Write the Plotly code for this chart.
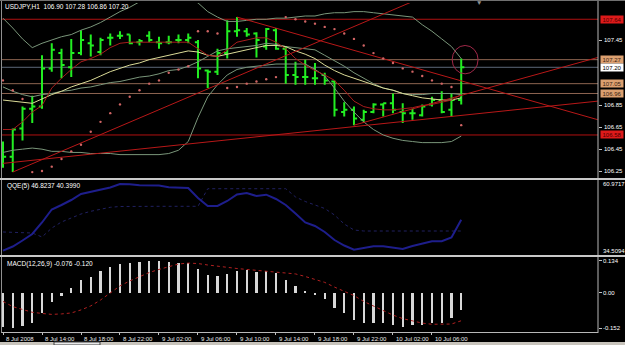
import plotly.graph_objects as go

# ---------------- data ----------------
BAR_INDEX = list(range(48))

OPEN = [106.40, 106.38, 106.64, 106.82, 106.84, 107.19, 107.33, 107.20, 107.33, 107.42,
        107.34, 107.47, 107.49, 107.50, 107.43, 107.49, 107.43, 107.43, 107.45, 107.45,
        107.43, 107.17, 107.16, 107.33, 107.53, 107.53, 107.51, 107.39, 107.54, 107.37,
        107.13, 107.11, 107.10, 107.13, 107.07, 106.79, 106.81, 106.72, 106.79, 106.86,
        106.87, 106.79, 106.78, 106.76, 106.86, 106.90, 106.81, 106.90]
HIGH = [106.52, 106.64, 106.84, 106.94, 107.31, 107.42, 107.37, 107.46, 107.54, 107.50,
        107.47, 107.51, 107.53, 107.50, 107.46, 107.53, 107.48, 107.49, 107.50, 107.51,
        107.45, 107.18, 107.37, 107.63, 107.66, 107.56, 107.52, 107.56, 107.56, 107.39,
        107.25, 107.27, 107.24, 107.15, 107.08, 106.88, 106.84, 106.81, 106.87, 106.87,
        106.96, 106.87, 106.82, 106.86, 106.93, 106.98, 106.96, 107.28]
LOW = [106.28, 106.24, 106.53, 106.69, 106.82, 107.16, 107.10, 107.11, 107.31, 107.30,
       107.31, 107.40, 107.46, 107.41, 107.40, 107.43, 107.37, 107.41, 107.42, 107.42,
       107.10, 107.01, 107.13, 107.28, 107.48, 107.48, 107.29, 107.36, 107.36, 107.05,
       107.04, 107.04, 107.04, 107.04, 106.75, 106.75, 106.67, 106.69, 106.78, 106.75,
       106.78, 106.69, 106.72, 106.75, 106.84, 106.78, 106.75, 106.86]
CLOSE = [106.38, 106.63, 106.82, 106.84, 107.19, 107.36, 107.22, 107.33, 107.45, 107.40,
         107.45, 107.47, 107.49, 107.42, 107.44, 107.45, 107.42, 107.43, 107.45, 107.47,
         107.19, 107.16, 107.33, 107.53, 107.54, 107.50, 107.45, 107.55, 107.37, 107.13,
         107.11, 107.11, 107.10, 107.08, 106.81, 106.81, 106.73, 106.79, 106.86, 106.87,
         106.81, 106.78, 106.78, 106.84, 106.90, 106.79, 106.90, 107.20]

BB_UPPER = [107.65, 107.56, 107.46, 107.38, 107.42, 107.45, 107.48, 107.50, 107.54, 107.57,
            107.61, 107.66, 107.71, 107.75, 107.80, 107.83, 107.87, 107.88, 107.87, 107.83,
            107.79, 107.71, 107.66, 107.62, 107.62, 107.63, 107.64, 107.64, 107.65, 107.65,
            107.66, 107.67, 107.67, 107.69, 107.70, 107.70, 107.71, 107.71, 107.70, 107.69,
            107.68, 107.67, 107.66, 107.59, 107.53, 107.46, 107.39, 107.28]
BB_MID = [107.02, 106.98, 106.95, 106.93, 106.95, 106.96, 106.98, 106.99, 107.01, 107.02,
          107.04, 107.06, 107.07, 107.09, 107.11, 107.12, 107.14, 107.17, 107.18, 107.21,
          107.25, 107.30, 107.35, 107.37, 107.38, 107.39, 107.40, 107.42, 107.41, 107.39,
          107.38, 107.37, 107.36, 107.31, 107.26, 107.21, 107.15, 107.10, 107.05, 107.01,
          106.99, 106.96, 106.95, 106.95, 106.96, 106.96, 106.96, 106.95]
BB_LOW = [106.42, 106.44, 106.45, 106.46, 106.45, 106.43, 106.43, 106.42, 106.42, 106.41,
          106.41, 106.41, 106.40, 106.40, 106.40, 106.40, 106.40, 106.41, 106.44, 106.52,
          106.74, 106.93, 107.04, 107.13, 107.18, 107.20, 107.21, 107.22, 107.23, 107.23,
          107.23, 107.23, 107.18, 107.12, 107.01, 106.89, 106.79, 106.70, 106.63, 106.58,
          106.55, 106.53, 106.52, 106.51, 106.51, 106.51, 106.52, 106.57]
SLOW_MA = [106.90, 106.89, 106.88, 106.87, 106.91, 106.95, 106.98, 107.02, 107.05, 107.08,
           107.12, 107.16, 107.19, 107.22, 107.24, 107.27, 107.29, 107.31, 107.33, 107.35,
           107.34, 107.31, 107.30, 107.32, 107.34, 107.36, 107.38, 107.40, 107.40, 107.39,
           107.35, 107.32, 107.28, 107.22, 107.17, 107.13, 107.10, 107.07, 107.04, 107.01,
           106.99, 106.96, 106.94, 106.92, 106.91, 106.90, 106.90, 106.92]
FAST_MA = [106.63, 106.63, 106.70, 106.79, 106.85, 107.01, 107.10, 107.18, 107.25, 107.28,
           107.32, 107.38, 107.42, 107.43, 107.43, 107.43, 107.43, 107.43, 107.43, 107.43,
           107.37, 107.31, 107.30, 107.36, 107.43, 107.45, 107.47, 107.47, 107.43, 107.37,
           107.28, 107.22, 107.17, 107.13, 107.08, 106.99, 106.89, 106.84, 106.82, 106.81,
           106.81, 106.82, 106.83, 106.85, 106.86, 106.88, 106.90, 106.95]
SAR = [107.08, 106.99, 106.91, 106.24, 106.25, 106.29, 106.36, 106.43, 106.49, 106.61,
       106.70, 106.78, 106.86, 106.93, 106.99, 107.05, 107.08, 107.15, 107.18, 107.21,
       107.53, 107.53, 107.51, 107.01, 107.02, 107.05, 107.07, 107.09, 107.11, 107.66,
       107.64, 107.62, 107.60, 107.57, 107.55, 107.51, 107.46, 107.40, 107.33, 107.28,
       107.24, 107.19, 107.16, 107.12, 107.08, 107.05, 107.02, 106.67]

# trendlines: (bar index pairs, price pairs)
TREND_A_X, TREND_A_Y = [0, 61], [106.32, 106.89]
TREND_B_X, TREND_B_Y = [1, 43], [106.24, 107.84]
TREND_C_X, TREND_C_Y = [24, 61], [107.66, 106.72]
TREND_E_X, TREND_E_Y = [36, 61], [106.67, 107.29]

LEVELS = [107.64, 107.27, 107.20, 107.05, 106.96, 106.58]
LEVEL_KIND = ["red", "tan", "bid", "tan", "tan", "red"]
PRICE_TICKS = [107.45, 106.85, 106.65, 106.45, 106.25]

QQE_MAIN = [34.51, 36.18, 38.56, 41.13, 45.70, 50.85, 52.64, 54.62, 57.00, 57.80,
            58.71, 59.58, 60.97, 60.90, 60.45, 60.45, 60.37, 59.66, 59.66, 59.38,
            55.42, 52.24, 52.24, 54.23, 56.80, 57.40, 56.21, 56.73, 55.02, 52.64,
            49.27, 45.70, 44.31, 41.93, 38.75, 36.57, 34.91, 35.58, 36.25, 36.25,
            35.58, 35.18, 36.37, 37.37, 38.24, 38.24, 39.75, 46.82]
QQE_SIGNAL = [41.93, 41.80, 41.65, 41.53, 39.95, 43.50, 45.90, 47.50, 49.07, 50.14,
              51.05, 51.73, 52.04, 52.12, 52.12, 52.12, 52.12, 52.12, 52.12, 52.12,
              52.12, 59.10, 59.10, 59.10, 59.10, 59.10, 59.10, 59.10, 59.10, 59.10,
              55.85, 54.03, 52.64, 51.25, 48.67, 45.10, 42.72, 42.32, 42.32, 42.32,
              42.32, 42.32, 42.32, 42.32, 42.32, 42.32, 42.32, 42.32]
QQE_TICKS = [60.9717, 34.5094]

MACD_HIST = [-0.145, -0.152, -0.141, -0.128, -0.088, -0.039, -0.014, 0.018, 0.053, 0.067,
             0.091, 0.110, 0.121, 0.127, 0.131, 0.134, 0.133, 0.128, 0.124, 0.124,
             0.100, 0.074, 0.070, 0.080, 0.091, 0.096, 0.088, 0.093, 0.084, 0.053,
             0.029, 0.006, -0.011, -0.028, -0.065, -0.088, -0.117, -0.131, -0.131, -0.131,
             -0.138, -0.145, -0.138, -0.138, -0.131, -0.131, -0.110, -0.076]
MACD_SIGNAL = [-0.038, -0.060, -0.072, -0.084, -0.089, -0.093, -0.091, -0.087, -0.074, -0.057,
               -0.032, 0.000, 0.028, 0.049, 0.066, 0.085, 0.098, 0.111, 0.121, 0.125,
               0.123, 0.117, 0.111, 0.106, 0.102, 0.098, 0.094, 0.091, 0.085, 0.082,
               0.079, 0.068, 0.055, 0.043, 0.023, 0.006, -0.013, -0.038, -0.057, -0.077,
               -0.096, -0.111, -0.121, -0.130, -0.135, -0.135, -0.134, -0.120]
MACD_TICKS = [0.134, 0.0, -0.152]
MACD_TICK_TEXT = ["0.134", "0.00", "-0.152"]

TIME_TICK_BARS = [0, 4, 8, 12, 16, 20, 24, 28, 32, 36, 40, 44]
TIME_TICK_LABELS = ["8 Jul 2008", "8 Jul 14:00", "8 Jul 18:00", "8 Jul 22:00",
                    "9 Jul 02:00", "9 Jul 06:00", "9 Jul 10:00", "9 Jul 14:00",
                    "9 Jul 18:00", "9 Jul 22:00", "10 Jul 02:00", "10 Jul 06:00"]

TITLE_MAIN = "USDJPY,H1  106.90 107.28 106.86 107.20"
TITLE_QQE = "QQE(5) 46.8237 40.3990"
TITLE_MACD = "MACD(12,26,9) -0.076 -0.120"

# ---------------- layout helpers ----------------
W, H = 625, 345
def px(x): return x / W
def py(y): return (H - y) / H

FONT = "Liberation Sans Narrow, Liberation Sans, Arial, sans-serif"
FS = 6.5
FS_AXIS = 6
XR = [-0.103, 61.03]

fig = go.Figure()

# Bollinger bands
for arr in (BB_UPPER, BB_MID, BB_LOW):
    fig.add_trace(go.Scatter(x=BAR_INDEX, y=arr, mode="lines", line=dict(color="#7a967a", width=1),
                             hoverinfo="skip", xaxis="x", yaxis="y"))
# moving averages
fig.add_trace(go.Scatter(x=BAR_INDEX, y=SLOW_MA, mode="lines", line=dict(color="#dcdc98", width=1),
                         hoverinfo="skip", xaxis="x", yaxis="y"))
fig.add_trace(go.Scatter(x=BAR_INDEX, y=FAST_MA, mode="lines", line=dict(color="#a81c1c", width=1),
                         hoverinfo="skip", xaxis="x", yaxis="y"))
# trendlines
for tx, ty in ((TREND_A_X, TREND_A_Y), (TREND_B_X, TREND_B_Y), (TREND_C_X, TREND_C_Y), (TREND_E_X, TREND_E_Y)):
    fig.add_trace(go.Scatter(x=tx, y=ty, mode="lines", line=dict(color="#b81818", width=1),
                             hoverinfo="skip", xaxis="x", yaxis="y"))
# parabolic SAR
fig.add_trace(go.Scatter(x=BAR_INDEX, y=SAR, mode="markers",
                         marker=dict(color="#d06464", size=2.4, line=dict(width=0)),
                         hoverinfo="skip", xaxis="x", yaxis="y"))
# price bars
fig.add_trace(go.Ohlc(x=BAR_INDEX, open=OPEN, high=HIGH, low=LOW, close=CLOSE,
                      increasing=dict(line=dict(color="#22ee22", width=2)),
                      decreasing=dict(line=dict(color="#22ee22", width=2)),
                      tickwidth=0.32, hoverinfo="skip", xaxis="x", yaxis="y"))

# QQE
fig.add_trace(go.Scatter(x=BAR_INDEX, y=QQE_SIGNAL, mode="lines",
                         line=dict(color="#202060", width=1, dash="dot"),
                         hoverinfo="skip", xaxis="x2", yaxis="y2"))
fig.add_trace(go.Scatter(x=BAR_INDEX, y=QQE_MAIN, mode="lines",
                         line=dict(color="#1e1e8c", width=2),
                         hoverinfo="skip", xaxis="x2", yaxis="y2"))

# MACD
fig.add_trace(go.Bar(x=BAR_INDEX, y=MACD_HIST, width=0.22,
                     marker=dict(color="#d8d8d8", line=dict(width=0)),
                     hoverinfo="skip", xaxis="x3", yaxis="y3"))
fig.add_trace(go.Scatter(x=BAR_INDEX, y=MACD_SIGNAL, mode="lines",
                         line=dict(color="#b02020", width=1, dash="dot"),
                         hoverinfo="skip", xaxis="x3", yaxis="y3"))

shapes = []
level_color = {"red": "#b01010", "tan": "#8c6450", "bid": "#5c6878"}
for lv, kind in zip(LEVELS, LEVEL_KIND):
    shapes.append(dict(type="line", xref="paper", yref="y", x0=px(2), x1=px(598), y0=lv, y1=lv,
                       line=dict(color=level_color[kind], width=1), layer="below"))
# highlight circle around last bar
shapes.append(dict(type="circle", xref="x", yref="y", x0=46.07, x1=48.73, y0=107.14, y1=107.40,
                   line=dict(color="#a02848", width=1)))
# frame lines
frame = "#b8b8b8"
shapes += [
    dict(type="line", xref="paper", yref="paper", x0=px(598), x1=px(598), y0=py(0), y1=py(333),
         line=dict(color=frame, width=1)),
    dict(type="line", xref="paper", yref="paper", x0=px(1.5), x1=px(1.5), y0=py(0), y1=py(333),
         line=dict(color="#909090", width=1)),
    dict(type="line", xref="paper", yref="paper", x0=0, x1=1, y0=py(179), y1=py(179),
         line=dict(color="#c8c8c8", width=2)),
    dict(type="line", xref="paper", yref="paper", x0=0, x1=1, y0=py(256), y1=py(256),
         line=dict(color="#c8c8c8", width=2)),
    dict(type="line", xref="paper", yref="paper", x0=px(1.5), x1=px(598), y0=py(332.5), y1=py(332.5),
         line=dict(color=frame, width=1)),
    dict(type="line", xref="paper", yref="paper", x0=0, x1=1, y0=py(0.5), y1=py(0.5),
         line=dict(color="#707070", width=1)),
    dict(type="rect", xref="paper", yref="paper", x0=0, x1=1, y0=py(345), y1=py(342),
         fillcolor="#c8c4bc", line=dict(width=0)),
    dict(type="rect", xref="paper", yref="paper", x0=px(54), x1=px(100), y0=py(345), y1=py(342),
         fillcolor="#e8e8e8", line=dict(color="#404040", width=1)),
]

ann = []
def text(x, y, s, xref="paper", yref="paper", color="#ffffff", xanchor="left", size=FS, **kw):
    ann.append(dict(x=x, y=y, xref=xref, yref=yref, text=s, showarrow=False, xanchor=xanchor,
                    yanchor="middle", font=dict(family=FONT, size=size, color=color), **kw))

text(px(3), py(6), TITLE_MAIN)
text(px(5), py(186), TITLE_QQE)
text(px(5), py(263.5), TITLE_MACD)
text(px(479), py(2.5), "▼", color="#909090", xanchor="center")

for p in PRICE_TICKS:
    text(px(602), p, f"{p:.2f}", yref="y", size=FS_AXIS)
box_style = {"red": ("#dd1a1a", "#4a0000"), "tan": ("#dca070", "#3a2010"), "bid": ("#ffffff", "#000000")}
for lv, kind in zip(LEVELS, LEVEL_KIND):
    bg, fc = box_style[kind]
    ann.append(dict(x=px(600), y=lv, xref="paper", yref="y", text=f"{lv:.2f}", showarrow=False,
                    xanchor="left", yanchor="middle", bgcolor=bg, width=22, height=7, borderpad=0,
                    align="center", font=dict(family=FONT, size=FS_AXIS, color=fc)))
for v in QQE_TICKS:
    text(px(600.5), v, f"{v:.4f}", yref="y2", size=FS_AXIS)
for v, s in zip(MACD_TICKS, MACD_TICK_TEXT):
    text(px(601), v, s, yref="y3", size=FS_AXIS)
for b, s in zip(TIME_TICK_BARS, TIME_TICK_LABELS):
    text(b, py(338.5), s, xref="x3", color="#e8e8e8", xshift=1, size=FS_AXIS)

dom_x = [px(2), px(598)]
hidden = dict(showgrid=False, zeroline=False, showticklabels=False, showline=False, fixedrange=True)
fig.update_layout(
    width=W, height=H, margin=dict(l=0, r=0, t=0, b=0, pad=0),
    paper_bgcolor="#000000", plot_bgcolor="#000000", showlegend=False,
    xaxis=dict(domain=dom_x, range=XR, anchor="y", rangeslider=dict(visible=False), **hidden),
    xaxis2=dict(domain=dom_x, range=XR, anchor="y2", **hidden),
    xaxis3=dict(domain=dom_x, range=XR, anchor="y3", ticks="outside", ticklen=3, tickcolor="#c0c0c0",
                tickvals=TIME_TICK_BARS, showgrid=False, zeroline=False, showticklabels=False,
                showline=False, fixedrange=True),
    yaxis=dict(domain=[py(177), py(3)], range=[106.195, 107.789], anchor="x", side="right",
               ticks="outside", ticklen=3, tickcolor="#c0c0c0", tickvals=PRICE_TICKS,
               showgrid=False, zeroline=False, showticklabels=False, showline=False, fixedrange=True),
    yaxis2=dict(domain=[py(254), py(181)], range=[33.2, 62.16], anchor="x2", **hidden),
    yaxis3=dict(domain=[py(331), py(258)], range=[-0.1636, 0.1466], anchor="x3", side="right",
                ticks="outside", ticklen=3, tickcolor="#c0c0c0", tickvals=MACD_TICKS,
                showgrid=False, zeroline=False, showticklabels=False, showline=False, fixedrange=True),
    shapes=shapes, annotations=ann, bargap=0,
)

fig.write_html("out.html", config={"displayModeBar": False, "staticPlot": True})
